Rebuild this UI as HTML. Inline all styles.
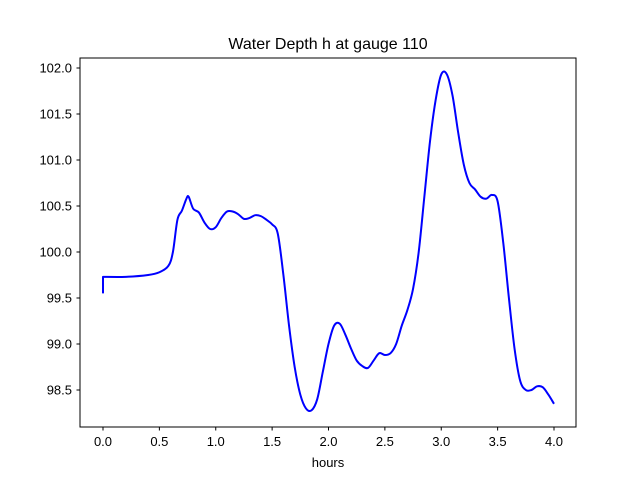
<!DOCTYPE html>
<html>
<head>
<meta charset="utf-8">
<style>
html,body{margin:0;padding:0;background:#fff;}
svg{display:block;font-family:"Liberation Sans","DejaVu Sans",sans-serif;}
</style>
</head>
<body>
<svg id="chart" width="640" height="480" viewBox="0 0 640 480" xmlns="http://www.w3.org/2000/svg">
<rect x="0" y="0" width="640" height="480" fill="#fff"/>
<text x="328" y="49" text-anchor="middle" font-size="16" fill="#000">Water Depth h at gauge 110</text>
<g id="xticks"></g>
<g id="yticks"></g>
<path id="line" fill="none" stroke="#0000ff" stroke-width="2" stroke-linejoin="round"/>
<rect x="80" y="58" width="496" height="369" fill="none" stroke="#000" stroke-width="1"/>
<text x="328" y="467" text-anchor="middle" font-size="13" fill="#000">hours</text>
</svg>
<script>
const times = [0,0,0.2,0.4,0.5,0.58,0.62,0.66,0.7,0.74,0.76,0.8,0.85,0.9,0.95,1.0,1.05,1.1,1.15,1.2,1.25,1.3,1.35,1.4,1.45,1.5,1.55,1.6,1.65,1.7,1.75,1.8,1.85,1.9,1.95,2.0,2.05,2.1,2.15,2.2,2.25,2.3,2.35,2.4,2.45,2.5,2.55,2.6,2.65,2.7,2.75,2.8,2.85,2.9,2.95,3.0,3.05,3.1,3.15,3.2,3.25,3.3,3.35,3.4,3.45,3.5,3.55,3.6,3.65,3.7,3.75,3.8,3.85,3.9,3.95,4.0];
const depths = [99.55,99.73,99.73,99.75,99.78,99.85,100.0,100.35,100.45,100.58,100.6,100.47,100.43,100.32,100.25,100.27,100.37,100.44,100.44,100.41,100.36,100.37,100.4,100.39,100.35,100.3,100.2,99.75,99.2,98.75,98.45,98.3,98.28,98.4,98.7,99.0,99.2,99.22,99.1,98.95,98.82,98.76,98.74,98.82,98.9,98.88,98.9,99.0,99.2,99.37,99.6,100.0,100.6,101.2,101.65,101.93,101.93,101.7,101.3,100.95,100.75,100.68,100.6,100.58,100.62,100.55,100.1,99.5,98.95,98.6,98.5,98.5,98.54,98.53,98.45,98.35];
const xTickLabels = ["0.0","0.5","1.0","1.5","2.0","2.5","3.0","3.5","4.0"];
const yTickLabels = ["98.5","99.0","99.5","100.0","100.5","101.0","101.5","102.0"];

const NS = "http://www.w3.org/2000/svg";
function xs(t){ return 103 + t * 112.75; }
function ys(h){ return 252 - (h - 100) * 92; }

const pts = times.map((t, i) => [xs(t), ys(depths[i])]);
let d = "M" + pts[0][0].toFixed(2) + "," + pts[0][1].toFixed(2) + "L" + pts[1][0].toFixed(2) + "," + pts[1][1].toFixed(2);
for (let i = 1; i < pts.length - 1; i++) {
  const p0 = pts[Math.max(1, i - 1)], p1 = pts[i], p2 = pts[i + 1], p3 = pts[Math.min(pts.length - 1, i + 2)];
  const c1x = p1[0] + (p2[0] - p0[0]) / 6, c1y = p1[1] + (p2[1] - p0[1]) / 6;
  const c2x = p2[0] - (p3[0] - p1[0]) / 6, c2y = p2[1] - (p3[1] - p1[1]) / 6;
  d += "C" + c1x.toFixed(2) + "," + c1y.toFixed(2) + " " + c2x.toFixed(2) + "," + c2y.toFixed(2) + " " + p2[0].toFixed(2) + "," + p2[1].toFixed(2);
}
document.getElementById("line").setAttribute("d", d);

const xg = document.getElementById("xticks");
xTickLabels.forEach(lab => {
  const x = xs(parseFloat(lab));
  const l = document.createElementNS(NS, "line");
  
  
  l.setAttribute("x1", x); l.setAttribute("x2", x);
  l.setAttribute("y1", 427); l.setAttribute("y2", 430.5);
  l.setAttribute("stroke", "#000");
  xg.appendChild(l);
  const t = document.createElementNS(NS, "text");
  
  
  t.setAttribute("x", x); t.setAttribute("y", 446);
  t.setAttribute("text-anchor", "middle");
  t.setAttribute("font-size", "13");
  t.textContent = lab;
  xg.appendChild(t);
});

const yg = document.getElementById("yticks");
yTickLabels.forEach(lab => {
  const y = ys(parseFloat(lab));
  const l = document.createElementNS(NS, "line");
  
  
  l.setAttribute("x1", 76.5); l.setAttribute("x2", 80);
  l.setAttribute("y1", y); l.setAttribute("y2", y);
  l.setAttribute("stroke", "#000");
  yg.appendChild(l);
  const t = document.createElementNS(NS, "text");
  
  
  t.setAttribute("x", 72); t.setAttribute("y", y + 4.5);
  t.setAttribute("text-anchor", "end");
  t.setAttribute("font-size", "13");
  t.textContent = lab;
  yg.appendChild(t);
});
</script>
</body>
</html>
